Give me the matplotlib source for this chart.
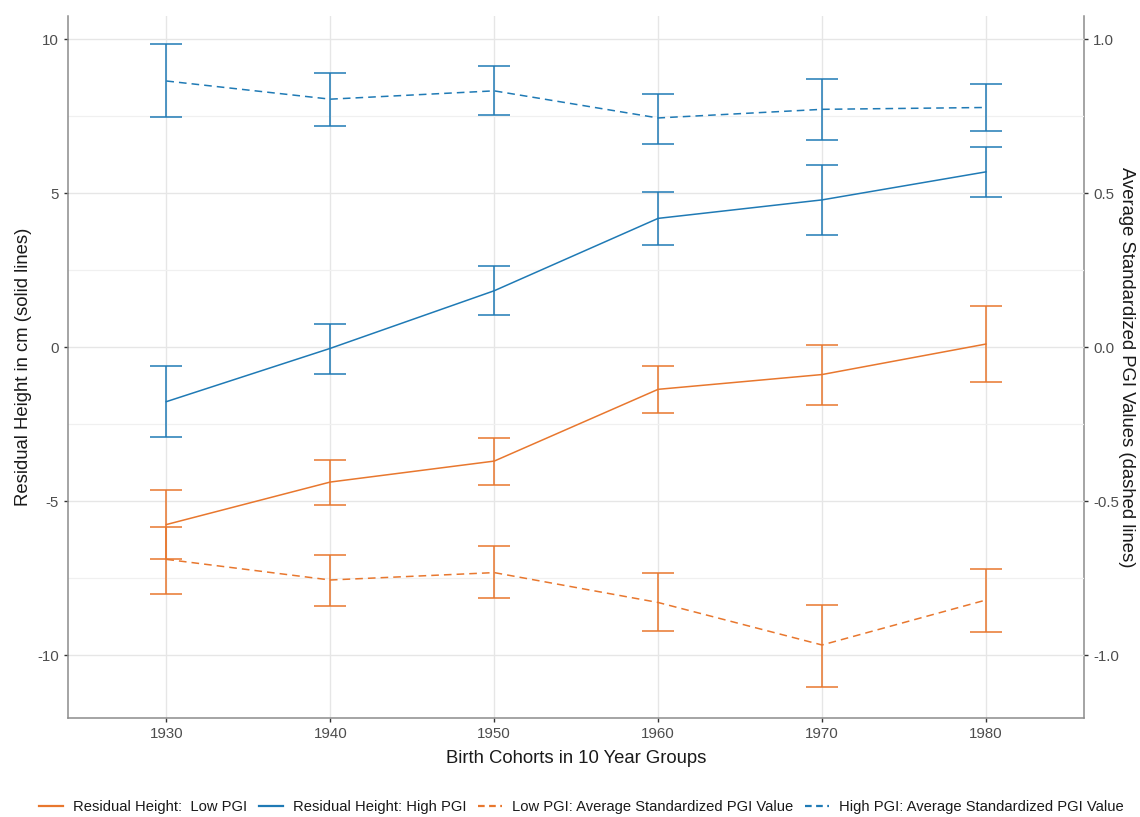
import numpy as np
import matplotlib
matplotlib.use("Agg")
import matplotlib.pyplot as plt
from matplotlib.lines import Line2D

plt.rcParams['font.family'] = ['Liberation Sans', 'DejaVu Sans']
plt.rcParams['axes.unicode_minus'] = False

# Données
cohorts = [1930, 1940, 1950, 1960, 1970, 1980]

# Residual height (cm) - solid lines
height_low = [-5.75, -4.37, -3.69, -1.36, -0.88, 0.11]
height_low_lo = [-6.88, -5.13, -4.46, -2.12, -1.87, -1.11]
height_low_hi = [-4.64, -3.64, -2.95, -0.59, 0.07, 1.36]

height_high = [-1.76, -0.03, 1.84, 4.19, 4.79, 5.70]
height_high_lo = [-2.92, -0.87, 1.05, 3.33, 3.65, 4.90]
height_high_hi = [-0.61, 0.77, 2.64, 5.04, 5.93, 6.52]

# Average standardized PGI - dashed lines (right axis)
pgi_low = [-0.688, -0.755, -0.731, -0.828, -0.966, -0.820]
pgi_low_lo = [-0.800, -0.838, -0.815, -0.920, -1.101, -0.923]
pgi_low_hi = [-0.583, -0.675, -0.645, -0.732, -0.835, -0.719]

pgi_high = [0.865, 0.806, 0.833, 0.745, 0.773, 0.779]
pgi_high_lo = [0.748, 0.719, 0.753, 0.662, 0.674, 0.702]
pgi_high_hi = [0.984, 0.892, 0.913, 0.824, 0.871, 0.855]

labels = ['Residual Height:  Low PGI', 'Residual Height: High PGI',
          'Low PGI: Average Standardized PGI Value', 'High PGI: Average Standardized PGI Value']

orange = '#E8772E'
blue = '#1F7AB5'
scale = 10.0  # right axis = left axis / 10

fig = plt.figure(figsize=(11.4, 8.17), dpi=100)
ax = fig.add_axes([68/1140, 1-718.3/817, (1084.3-68)/1140, (718.3-16)/817])

x = np.array(cohorts)
dash = (0, (5, 3.3))
lw = 1.1
cap = 11.5

def draw(y, lo, hi, color, ls, k=1.0):
    y = np.array(y)*k
    lo = np.array(lo)*k
    hi = np.array(hi)*k
    ax.errorbar(x, y, yerr=[y-lo, hi-y], fmt='none', ecolor=color,
                elinewidth=lw, capsize=cap, capthick=lw, zorder=3)
    ax.plot(x, y, color=color, lw=lw, linestyle=ls, zorder=3)

draw(height_low, height_low_lo, height_low_hi, orange, '-')
draw(height_high, height_high_lo, height_high_hi, blue, '-')
draw(pgi_low, pgi_low_lo, pgi_low_hi, orange, dash, scale)
draw(pgi_high, pgi_high_lo, pgi_high_hi, blue, dash, scale)

ax.set_xlim(1924, 1986)
ax.set_ylim(-12.04, 10.76)
ax.set_xticks(cohorts)
ax.set_yticks([-10, -5, 0, 5, 10])
ax.set_yticks([-7.5, -2.5, 2.5, 7.5], minor=True)
ax.grid(True, which='major', color='#E6E6E6', lw=1.0, zorder=0)
ax.grid(True, which='minor', axis='y', color='#F0F0F0', lw=0.9, zorder=0)
ax.set_axisbelow(True)

for s in ['top', 'right']:
    ax.spines[s].set_visible(False)
for s in ['left', 'bottom']:
    ax.spines[s].set_color('#8C8C8C')
    ax.spines[s].set_linewidth(1.1)
ax.tick_params(axis='both', which='major', colors='#333333', labelcolor='#4D4D4D',
               labelsize=10.8, length=3, width=1.0)
ax.tick_params(axis='y', which='minor', length=0)

sec = ax.secondary_yaxis('right', functions=(lambda v: v/scale, lambda v: v*scale))
sec.set_yticks([-1.0, -0.5, 0.0, 0.5, 1.0])
sec.set_yticklabels(['-1.0', '-0.5', '0.0', '0.5', '1.0'])
sec.spines['right'].set_color('#8C8C8C')
sec.spines['right'].set_linewidth(1.1)
sec.tick_params(axis='y', colors='#333333', labelcolor='#4D4D4D', labelsize=10.8,
                length=3, width=1.0)
fig.text(1127/1140, 1-367/817, 'Average Standardized PGI Values (dashed lines)',
         fontsize=13.3, rotation=-90, ha='center', va='center', color='#1A1A1A')

ax.set_xlabel('Birth Cohorts in 10 Year Groups', fontsize=13.3, labelpad=6, color='#1A1A1A')
ax.set_ylabel('Residual Height in cm (solid lines)', fontsize=13.3, labelpad=4, color='#1A1A1A')

handles = [Line2D([], [], color=orange, lw=1.6, ls='-'),
           Line2D([], [], color=blue, lw=1.6, ls='-'),
           Line2D([], [], color=orange, lw=1.6, ls=(0, (3, 2))),
           Line2D([], [], color=blue, lw=1.6, ls=(0, (3, 2)))]
fig.legend(handles, labels, loc='center', bbox_to_anchor=(0.51, 1-807/817), ncol=4,
           frameon=False, fontsize=10.6, handlelength=1.6, handletextpad=0.7,
           columnspacing=0.8, labelcolor='#1A1A1A')

fig.savefig('out.png', dpi=100)
